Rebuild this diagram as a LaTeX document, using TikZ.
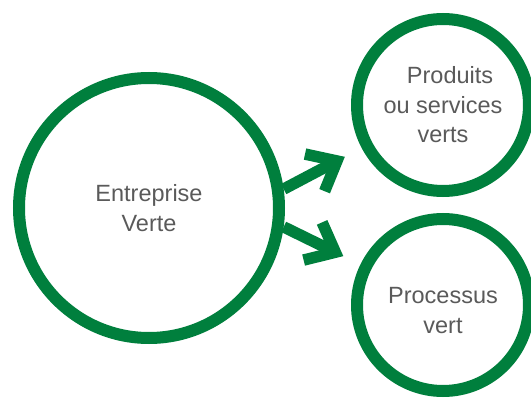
\documentclass[tikz,border=0pt]{standalone}
\usepackage{fontspec}
\setmainfont{Liberation Sans}
\usetikzlibrary{arrows.meta}
\definecolor{vgreen}{RGB}{0,127,61}
\definecolor{tgrey}{RGB}{90,90,90}
\tikzset{txt/.style={font=\fontsize{23.5}{29.5}\selectfont, text=tgrey, align=center}}
\tikzset{bc/.style={circle, draw=vgreen, line width=12pt, inner sep=0pt, minimum size=260pt, txt}}
\tikzset{sc/.style={bc, minimum size=172pt}}
\tikzset{fl/.style={draw=vgreen, line width=11.5pt, shorten >=19pt,
  -{Straight Barb[length=25pt, width=42pt]}}}

\begin{document}
\begin{tikzpicture}[x=1pt, y=-1pt]
        \useasboundingbox (0,0) rectangle (531,401);
        \node [bc] (EV) at (149,208) {Entreprise\\Verte};
        \node [sc] (PSV) at (443,105) {\hspace*{0.6em}Produits\\ou services\\verts};
        \node [sc] (PV) at (443,305) {\rule{0pt}{27pt}Processus\\vert};
        \path (EV.8) edge [fl] (PSV)
              (EV.-8) edge [fl] (PV);
      \end{tikzpicture}
\end{document}
